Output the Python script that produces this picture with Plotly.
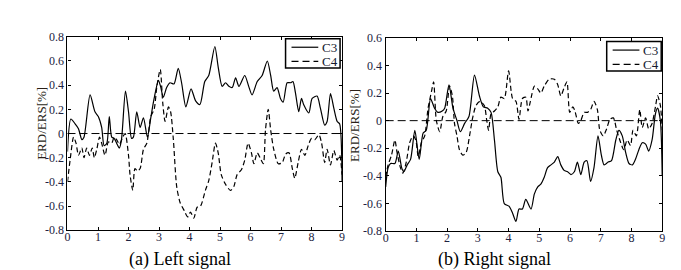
import plotly.graph_objects as go

# ---------------- data ----------------
LC3_T = [0.0, 0.11, 0.25, 0.36, 0.47, 0.54, 0.74, 0.9, 1.01, 1.12, 1.2, 1.29, 1.37, 1.45, 1.53, 1.61, 1.7, 1.77,
         1.9, 2.0, 2.1, 2.16, 2.27, 2.38, 2.49, 2.62, 2.73, 2.84, 2.98, 3.05, 3.14, 3.25, 3.36, 3.49, 3.63, 3.74,
         3.88, 4.05, 4.2, 4.34, 4.5, 4.63, 4.83, 4.94, 5.07, 5.18, 5.29, 5.4, 5.51, 5.62, 5.81, 5.94, 6.05, 6.22,
         6.38, 6.55, 6.66, 6.76, 6.87, 6.98, 7.07, 7.2, 7.31, 7.39, 7.47, 7.58, 7.67, 7.74, 7.91, 8.02, 8.18, 8.29,
         8.43, 8.51, 8.62, 8.73, 8.84, 8.92, 9.0]
LC3_V = [-0.15, 0.12, 0.08, 0.04, -0.05, -0.03, 0.32, 0.18, 0.14, 0.05, -0.1, -0.08, 0.14, -0.03, -0.04, -0.08, -0.12, -0.05,
         0.35, 0.18, -0.04, -0.03, 0.18, 0.05, 0.13, -0.03, 0.13, 0.29, 0.44, 0.39, 0.30, 0.38, 0.42, 0.41, 0.54, 0.42,
         0.22, 0.37, 0.27, 0.24, 0.43, 0.48, 0.72, 0.55, 0.39, 0.42, 0.39, 0.38, 0.46, 0.39, 0.48, 0.39, 0.32, 0.43,
         0.48, 0.60, 0.48, 0.35, 0.38, 0.29, 0.26, 0.42, 0.42, 0.43, 0.34, 0.18, 0.29, 0.24, 0.17, 0.29, 0.31, 0.21,
         0.07, 0.10, 0.33, 0.21, 0.10, 0.08, -0.40]

LC4_T = [0.0, 0.09, 0.2, 0.28, 0.36, 0.47, 0.54, 0.63, 0.72, 0.81, 0.88, 0.96, 1.05, 1.12, 1.23, 1.34, 1.45, 1.53,
         1.61, 1.7, 1.81, 1.89, 2.0, 2.05, 2.14, 2.21, 2.29, 2.38, 2.49, 2.6, 2.73, 2.84, 2.93, 3.04, 3.12, 3.2,
         3.31, 3.38, 3.47, 3.58, 3.69, 3.83, 3.94, 4.03, 4.14, 4.25, 4.36, 4.52, 4.63, 4.74, 4.85, 4.94, 5.04, 5.18,
         5.34, 5.45, 5.56, 5.7, 5.81, 5.92, 6.03, 6.11, 6.22, 6.33, 6.42, 6.49, 6.58, 6.66, 6.76, 6.91, 7.04, 7.15,
         7.26, 7.37, 7.45, 7.56, 7.67, 7.78, 7.89, 8.0, 8.11, 8.24, 8.33, 8.43, 8.51, 8.62, 8.73, 8.84, 8.92, 9.0]
LC4_V = [-0.40, -0.21, -0.03, -0.08, -0.18, -0.12, -0.2, -0.12, -0.18, -0.12, -0.2, -0.13, -0.03, -0.08, -0.18, -0.07, -0.08, -0.03,
         -0.05, -0.09, -0.03, 0.0, -0.18, -0.34, -0.47, -0.29, -0.31, -0.29, -0.13, -0.08, 0.14, 0.2, 0.39, 0.53, 0.26, 0.10,
         0.22, 0.18, -0.05, -0.44, -0.57, -0.64, -0.69, -0.65, -0.70, -0.61, -0.60, -0.47, -0.39, -0.24, -0.08, -0.16, -0.34, -0.42,
         -0.47, -0.44, -0.34, -0.30, -0.22, -0.08, -0.16, -0.25, -0.16, -0.21, -0.25, 0.03, 0.20, 0.03, -0.13, -0.25, -0.24, -0.17,
         -0.16, -0.29, -0.37, -0.24, -0.13, -0.18, -0.10, -0.04, -0.05, -0.01, -0.08, -0.24, -0.13, -0.26, -0.14, -0.22, -0.18, -0.34]

RC3_T = [0.0, 0.08, 0.16, 0.3, 0.41, 0.52, 0.59, 0.7, 0.81, 0.95, 1.09, 1.22, 1.32, 1.46, 1.59, 1.7, 1.84, 1.92,
         2.06, 2.19, 2.32, 2.43, 2.57, 2.71, 2.89, 3.05, 3.18, 3.32, 3.43, 3.54, 3.65, 3.75, 3.86, 4.02, 4.13, 4.24,
         4.34, 4.45, 4.56, 4.73, 4.84, 4.95, 5.05, 5.16, 5.27, 5.38, 5.49, 5.6, 5.7, 5.81, 5.92, 6.03, 6.14, 6.24,
         6.35, 6.46, 6.55, 6.67, 6.78, 6.91, 7.02, 7.11, 7.24, 7.35, 7.49, 7.59, 7.7, 7.81, 7.92, 8.03, 8.13, 8.24,
         8.35, 8.46, 8.56, 8.67, 8.78, 8.85, 8.94, 9.0]
RC3_V = [-0.48, -0.34, -0.31, -0.31, -0.22, -0.34, -0.37, -0.32, -0.28, -0.07, -0.28, -0.09, -0.07, 0.16, 0.09, 0.06, 0.07, 0.09,
         0.26, 0.09, 0.0, -0.08, -0.02, 0.03, 0.33, 0.18, 0.10, 0.09, 0.06, -0.14, -0.37, -0.41, -0.60, -0.62, -0.67, -0.73,
         -0.64, -0.64, -0.57, -0.64, -0.53, -0.48, -0.46, -0.41, -0.34, -0.32, -0.30, -0.26, -0.32, -0.36, -0.37, -0.39, -0.37, -0.30,
         -0.39, -0.30, -0.29, -0.44, -0.34, -0.11, -0.25, -0.32, -0.30, -0.29, -0.14, -0.07, -0.11, -0.23, -0.31, -0.32, -0.28, -0.21,
         -0.16, -0.17, -0.22, -0.14, 0.05, 0.09, 0.0, -0.40]

RC4_T = [0.0, 0.08, 0.19, 0.3, 0.37, 0.48, 0.56, 0.67, 0.78, 0.89, 0.98, 1.06, 1.16, 1.27, 1.38, 1.49, 1.56, 1.65,
         1.76, 1.86, 1.97, 2.08, 2.17, 2.24, 2.32, 2.4, 2.51, 2.62, 2.73, 2.83, 2.94, 3.07, 3.21, 3.29, 3.35, 3.43,
         3.54, 3.65, 3.75, 3.86, 4.0, 4.13, 4.24, 4.34, 4.45, 4.56, 4.63, 4.71, 4.84, 4.95, 5.05, 5.16, 5.32, 5.49,
         5.6, 5.7, 5.81, 5.9, 5.99, 6.09, 6.16, 6.27, 6.35, 6.46, 6.57, 6.67, 6.78, 6.89, 6.97, 7.08, 7.19, 7.3,
         7.41, 7.52, 7.65, 7.75, 7.86, 7.97, 8.05, 8.16, 8.27, 8.35, 8.46, 8.56, 8.67, 8.78, 8.85, 8.94, 9.0]
RC4_V = [-0.41, -0.32, -0.25, -0.14, -0.23, -0.34, -0.38, -0.30, -0.16, -0.11, -0.14, -0.26, -0.16, -0.11, 0.09, 0.21, 0.28, 0.0,
         -0.08, 0.03, 0.07, 0.25, 0.18, -0.02, -0.11, -0.21, -0.25, -0.23, -0.11, 0.02, 0.11, 0.14, 0.11, 0.0, -0.07, 0.05,
         0.07, 0.10, 0.17, 0.16, 0.36, 0.16, 0.14, 0.01, 0.16, 0.17, 0.07, 0.14, 0.25, 0.23, 0.20, 0.25, 0.30, 0.30,
         0.26, 0.18, 0.24, 0.28, 0.06, 0.10, 0.07, -0.02, 0.0, 0.06, 0.06, 0.08, 0.14, 0.08, -0.07, -0.11, -0.06, 0.01,
         0.02, -0.07, -0.16, -0.21, -0.14, -0.18, -0.07, -0.11, 0.08, -0.05, 0.02, -0.06, -0.02, 0.10, 0.18, 0.11, -0.07]

X_TICKS = [0, 1, 2, 3, 4, 5, 6, 7, 8, 9]
LEFT_Y_TICKS = [-0.8, -0.6, -0.4, -0.2, 0, 0.2, 0.4, 0.6, 0.8]
LEFT_Y_TEXT = ["-0.8", "-0.6", "-0.4", "-0.2", "0", "0.2", "0.4", "0.6", "0.8"]
RIGHT_Y_TICKS = [-0.8, -0.6, -0.4, -0.2, 0, 0.2, 0.4, 0.6]
RIGHT_Y_TEXT = ["-0.8", "-0.6", "-0.4", "-0.2", "0", "0.2", "0.4", "0.6"]
SERIES = ["C3", "C4"]
Y_TITLE = "ERD/ERS[%]"
CAPTIONS = ["(a) Left signal", "(b) Right signal"]

# ---------------- figure ----------------
W, H = 681, 270
FONT = "Liberation Serif"
TICK_COLOR = "#1c2240"
C4_DASH = "5px,3px"

fig = go.Figure()

def add_line(t, v, name, dash, xa, ya):
    fig.add_trace(go.Scatter(
        x=t, y=v, name=name, mode="lines", xaxis=xa, yaxis=ya, showlegend=False,
        line=dict(color="black", width=1.2, dash=dash, shape="spline", smoothing=0.7),
    ))

add_line(LC3_T, LC3_V, SERIES[0], "solid", "x", "y")
add_line(LC4_T, LC4_V, SERIES[1], C4_DASH, "x", "y")
add_line(RC3_T, RC3_V, SERIES[0], "solid", "x2", "y2")
add_line(RC4_T, RC4_V, SERIES[1], C4_DASH, "x2", "y2")

def px_x(p):
    return p / W

def px_y(p):
    return 1 - p / H

axis_common = dict(
    showline=True, linecolor="black", linewidth=1.3, mirror="ticks",
    ticks="inside", ticklen=3, tickcolor="black", tickwidth=1,
    showgrid=False, zeroline=False,
    tickfont=dict(family=FONT, size=12, color=TICK_COLOR),
)

fig.update_layout(
    width=W, height=H,
    margin=dict(l=0, r=0, t=0, b=0),
    paper_bgcolor="white", plot_bgcolor="white",
    font=dict(family=FONT),
    showlegend=False,
    xaxis=dict(domain=[px_x(57), px_x(334)], range=[0, 9], tickvals=X_TICKS, anchor="y",
               ticklabelstandoff=-5, **axis_common),
    yaxis=dict(domain=[px_y(227), px_y(23)], range=[-0.8, 0.8], tickvals=LEFT_Y_TICKS, ticktext=LEFT_Y_TEXT,
               anchor="x", **axis_common),
    xaxis2=dict(domain=[px_x(378), px_x(657)], range=[0, 9], tickvals=X_TICKS, anchor="y2",
                ticklabelstandoff=-5, **axis_common),
    yaxis2=dict(domain=[px_y(228), px_y(24)], range=[-0.8, 0.6], tickvals=RIGHT_Y_TICKS, ticktext=RIGHT_Y_TEXT,
                anchor="x2", **axis_common),
)

# zero reference lines
for xr, yr in (("x domain", "y"), ("x2 domain", "y2")):
    fig.add_shape(type="line", xref=xr, yref=yr, x0=0, x1=1, y0=0, y1=0,
                  line=dict(color="black", width=1, dash="8px,4px"))

# legends (box + sample lines + labels), one per panel
def add_legend(left, top):
    right, bottom = left + 55, top + 31
    fig.add_shape(type="rect", xref="paper", yref="paper",
                  x0=px_x(left), x1=px_x(right), y0=px_y(bottom), y1=px_y(top),
                  line=dict(color="black", width=1.5), fillcolor="white", layer="above")
    for i, (name, dash) in enumerate(zip(SERIES, ["solid", "7px,4px"])):
        yy = top + 9 + i * 15
        fig.add_shape(type="line", xref="paper", yref="paper",
                      x0=px_x(left + 6), x1=px_x(left + 33), y0=px_y(yy), y1=px_y(yy),
                      line=dict(color="black", width=1.2, dash=dash), layer="above")
        fig.add_annotation(text=name, xref="paper", yref="paper", x=px_x(left + 35), y=px_y(yy),
                           showarrow=False, xanchor="left", yanchor="middle",
                           font=dict(family=FONT, size=13, color="#141a30"))

add_legend(277, 25)
add_legend(601, 28)

# y-axis titles
for xc, yc in ((30, 114), (347, 116)):
    fig.add_annotation(text=Y_TITLE, xref="paper", yref="paper", x=px_x(xc), y=px_y(yc),
                       showarrow=False, textangle=-90, xanchor="center", yanchor="middle",
                       font=dict(family=FONT, size=13, color="#2a1f18"))

# captions
for xc, txt in ((170, CAPTIONS[0]), (488, CAPTIONS[1])):
    fig.add_annotation(text=txt, xref="paper", yref="paper", x=px_x(xc), y=px_y(258),
                       showarrow=False, xanchor="center", yanchor="middle",
                       font=dict(family=FONT, size=18, color="black"))

fig.write_html("out.html")
